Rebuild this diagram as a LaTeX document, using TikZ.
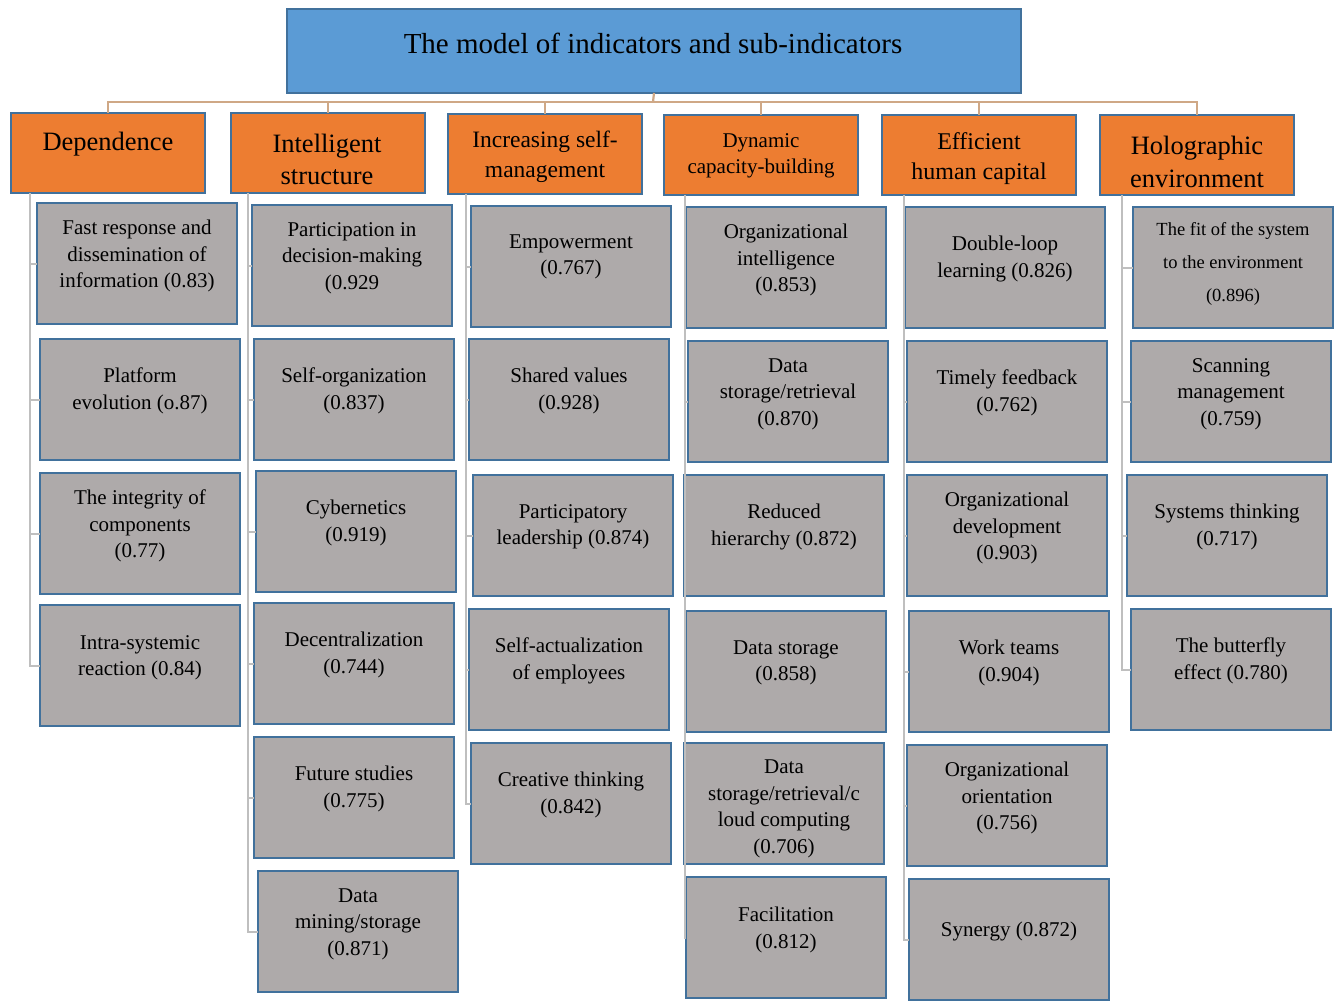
\documentclass[tikz,border=0pt]{standalone}
\usepackage{fontspec}
\setmainfont{Liberation Serif}
\definecolor{mainblue}{HTML}{5B9BD5}
\definecolor{edgeblue}{HTML}{41719C}
\definecolor{catorange}{HTML}{ED7D31}
\definecolor{subgrey}{HTML}{AEAAAA}
\definecolor{linegrey}{HTML}{BFBFBF}
\definecolor{bustan}{HTML}{CFA886}
\tikzset{
  mainbox/.style={draw=edgeblue, line width=2.5pt, fill=mainblue, minimum width=734pt, minimum height=84pt, inner sep=0pt, outer sep=0pt, anchor=north west},
  catbox/.style={draw=edgeblue, line width=2.5pt, fill=catorange, minimum width=194pt, minimum height=80pt, inner sep=0pt, outer sep=0pt, anchor=north west},
  subbox/.style={draw=edgeblue, line width=2.5pt, fill=subgrey, minimum width=200pt, minimum height=121pt, inner sep=0pt, outer sep=0pt, anchor=north west},
  subtxt/.style={align=center, inner sep=0pt, yshift=-2pt, font=\fontsize{21}{26.5}\selectfont},
  cattxt/.style={align=center, inner sep=0pt, yshift=-2pt},
  vline/.style={draw=linegrey, line width=2pt},
  busline/.style={draw=bustan, line width=2.2pt}
}
\newcommand\subind[5]{%
  \node[subbox] (#1) at (#2,#3) {};
  \node[subtxt] (#1t) at ({#2+100},#4) {#5};
}
\begin{document}
\begin{tikzpicture}[x=1pt,y=-1pt]
\useasboundingbox (0,0) rectangle (1335,1001);
% main
\node[mainbox] (main) at (287,9) {};
\node[cattxt, font=\fontsize{29}{34}\selectfont] (maint) at (653,41) {The model of indicators and sub-indicators};
% categories
\node[catbox] (c1) at (11,113) {};
\node[catbox] (c2) at (231,113) {};
\node[catbox] (c3) at (448,114) {};
\node[catbox] (c4) at (664,115) {};
\node[catbox] (c5) at (882,115) {};
\node[catbox] (c6) at (1100,115) {};
\node[cattxt, font=\fontsize{26.5}{32}\selectfont] (c1t) at (108,142) {Dependence};
\node[cattxt, font=\fontsize{26.5}{32}\selectfont] (c2t) at (327,157) {Intelligent\\structure};
\node[cattxt, font=\fontsize{23.5}{30}\selectfont] (c3t) at (545,155) {Increasing self-\\management};
\node[cattxt, font=\fontsize{21}{26}\selectfont] (c4t) at (761,154) {Dynamic\\capacity-building};
\node[cattxt, font=\fontsize{24}{30}\selectfont] (c5t) at (979,157) {Efficient\\human capital};
\node[cattxt, font=\fontsize{26.5}{33}\selectfont] (c6t) at (1197,160) {Holographic\\environment};
% bus
\coordinate (bus) at (653,102);
\draw[busline] (c1.north) -- (c1.north |- bus) -- (c6.north |- bus) -- (c6.north);
\foreach \c in {c2,c3,c4,c5} \draw[busline] (\c.north) -- (\c.north |- bus);
\draw[busline] (main.south) -- (bus);
% column 1
\subind{s11}{37}{203}{254}{Fast response and\\dissemination of\\information (0.83)}
\subind{s12}{40}{339}{389}{Platform\\evolution (o.87)}
\subind{s13}{40}{473}{524}{The integrity of\\components\\(0.77)}
\subind{s14}{40}{605}{656}{Intra-systemic\\reaction (0.84)}
% column 2
\subind{s21}{252}{205}{256}{Participation in\\decision-making\\(0.929}
\subind{s22}{254}{339}{389}{Self-organization\\(0.837)}
\subind{s23}{256}{471}{521}{Cybernetics\\(0.919)}
\subind{s24}{254}{603}{653}{Decentralization\\(0.744)}
\subind{s25}{254}{737}{787}{Future studies\\(0.775)}
\subind{s26}{258}{871}{922}{Data\\mining/storage\\(0.871)}
% column 3
\subind{s31}{471}{206}{255}{Empowerment\\(0.767)}
\subind{s32}{469}{339}{389}{Shared values\\(0.928)}
\subind{s33}{473}{475}{525}{Participatory\\leadership (0.874)}
\subind{s34}{469}{609}{659}{Self-actualization\\of employees}
\subind{s35}{471}{743}{793}{Creative thinking\\(0.842)}
% column 4
\subind{s41}{686}{207}{258}{Organizational\\intelligence\\(0.853)}
\subind{s42}{688}{341}{392}{Data\\storage/retrieval\\(0.870)}
\subind{s43}{684}{475}{525}{Reduced\\hierarchy (0.872)}
\subind{s44}{686}{611}{661}{Data storage\\(0.858)}
\subind{s45}{684}{743}{807}{Data\\storage/retrieval/c\\loud computing\\(0.706)}
\subind{s46}{686}{877}{928}{Facilitation\\(0.812)}
% column 5
\subind{s51}{905}{207}{257}{Double-loop\\learning (0.826)}
\subind{s52}{907}{341}{391}{Timely feedback\\(0.762)}
\subind{s53}{907}{475}{526}{Organizational\\development\\(0.903)}
\subind{s54}{909}{611}{661}{Work teams\\(0.904)}
\subind{s55}{907}{745}{796}{Organizational\\orientation\\(0.756)}
\subind{s56}{909}{879}{929}{Synergy (0.872)}
% column 6
\node[subbox] (s61) at (1133,207) {};
\node[subtxt, font=\fontsize{18.5}{33}\selectfont] (s61t) at (1233,262) {The fit of the system\\to the environment\\(0.896)};
\subind{s62}{1131}{341}{392}{Scanning\\management\\(0.759)}
\subind{s63}{1127}{475}{525}{Systems thinking\\(0.717)}
\subind{s64}{1131}{609}{659}{The butterfly\\effect (0.780)}
% connectors
\coordinate (v1) at ([xshift=19pt]c1.south west);
\coordinate (v2) at ([xshift=17pt]c2.south west);
\coordinate (v3) at ([xshift=18pt]c3.south west);
\coordinate (v4) at ([xshift=21pt]c4.south west);
\coordinate (v5) at ([xshift=22pt]c5.south west);
\coordinate (v6) at ([xshift=22pt]c6.south west);
\draw[vline] (v1) -- (v1 |- s14.west) -- (s14.west);
\foreach \s in {s11,s12,s13} \draw[vline] (v1 |- \s.west) -- (\s.west);
\draw[vline] (v2) -- (v2 |- s26.west) -- (s26.west);
\foreach \s in {s21,s22,s23,s24,s25} \draw[vline] (v2 |- \s.west) -- (\s.west);
\draw[vline] (v3) -- (v3 |- s35.west) -- (s35.west);
\foreach \s in {s31,s32,s33,s34} \draw[vline] (v3 |- \s.west) -- (\s.west);
\draw[vline] (v4) -- (v4 |- s46.west) -- (s46.west);
\foreach \s in {s41,s42,s43,s44,s45} \draw[vline] (v4 |- \s.west) -- (\s.west);
\draw[vline] (v5) -- (v5 |- s56.west) -- (s56.west);
\foreach \s in {s51,s52,s53,s54,s55} \draw[vline] (v5 |- \s.west) -- (\s.west);
\draw[vline] (v6) -- (v6 |- s64.west) -- (s64.west);
\foreach \s in {s61,s62,s63} \draw[vline] (v6 |- \s.west) -- (\s.west);
\end{tikzpicture}
\end{document}
